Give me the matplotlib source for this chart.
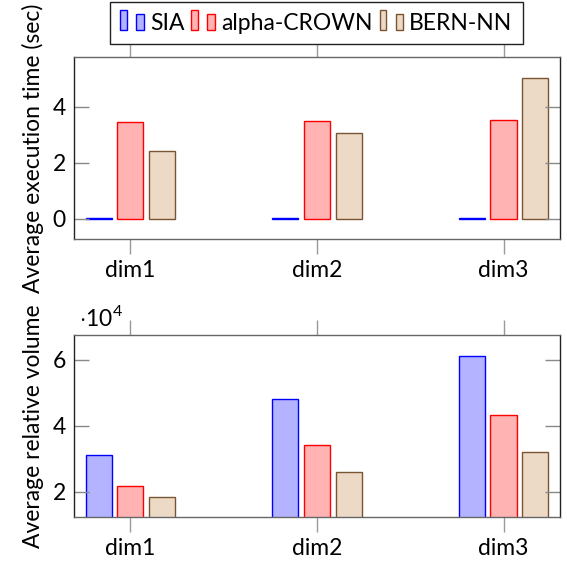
import numpy as np
import matplotlib
matplotlib.use("Agg")
import matplotlib.pyplot as plt
from matplotlib.patches import Rectangle
from matplotlib.legend_handler import HandlerBase

plt.rcParams['font.family'] = ['Lato', 'DejaVu Sans']
plt.rcParams['mathtext.fontset'] = 'custom'
plt.rcParams['mathtext.rm'] = 'Lato'

categories = ["dim1", "dim2", "dim3"]
methods = ["SIA", "alpha-CROWN", "BERN-NN"]
exec_time = {
    "SIA": [0.02, 0.02, 0.02],
    "alpha-CROWN": [3.45, 3.49, 3.54],
    "BERN-NN": [2.44, 3.06, 5.02],
}
# relative volume, in units of 1e4
rel_volume = {
    "SIA": [3.11, 4.82, 6.13],
    "alpha-CROWN": [2.17, 3.43, 4.33],
    "BERN-NN": [1.85, 2.59, 3.20],
}

fills = {"SIA": "#b3b3ff", "alpha-CROWN": "#ffb3b3", "BERN-NN": "#ecd9c6"}
edges = {"SIA": "#0000ff", "alpha-CROWN": "#ff0000", "BERN-NN": "#7a5532"}

BW = 0.14
OFF = 0.17
FS = 16.5


class TwoBarHandler(HandlerBase):
    # pgfplots-style ybar legend: two small bars
    def create_artists(self, legend, orig, xd, yd, w, h, fontsize, trans):
        fc, ec = orig.get_facecolor(), orig.get_edgecolor()
        r1 = Rectangle((-xd, -yd), 0.28 * w, 1.19 * h,
                       facecolor=fc, edgecolor=ec, lw=1, transform=trans)
        r2 = Rectangle((-xd + 0.67 * w, -yd), 0.32 * w, 0.94 * h,
                       facecolor=fc, edgecolor=ec, lw=1, transform=trans)
        return [r1, r2]


def style_axes(ax):
    for s in ["left", "right"]:
        ax.spines[s].set_color("#222222")
    for s in ["top", "bottom"]:
        ax.spines[s].set_color("#666666")
    for s in ax.spines.values():
        s.set_linewidth(1.0)
    ax.set_xticks(np.arange(1, 4))
    ax.set_xticklabels(categories)
    ax.set_xlim(0.698, 3.30)
    ax.tick_params(axis="x", direction="out", length=11, width=1, color="#999999",
                   top=True, labelsize=FS, pad=4)
    ax.tick_params(axis="y", direction="in", length=11, width=1, color="#888888",
                   right=True, labelsize=FS, pad=6)


fig = plt.figure(figsize=(5.67, 5.63), dpi=100)
ax1 = fig.add_axes([0.1305, 0.575, 0.8563, 0.3233])
ax2 = fig.add_axes([0.1305, 0.0812, 0.8563, 0.3238])

x = np.arange(1, 4)
handles = []
for i, m in enumerate(methods):
    b = ax1.bar(x + (i - 1) * OFF, exec_time[m], BW, facecolor=fills[m], edgecolor=edges[m],
                lw=1.0, label=m)
    handles.append(b.patches[0])
    ax2.bar(x + (i - 1) * OFF, rel_volume[m], BW, facecolor=fills[m], edgecolor=edges[m], lw=1.0)

style_axes(ax1)
ax1.set_ylim(-0.725, 5.77)
ax1.set_yticks([0, 2, 4])
ax1.set_ylabel("Average execution time (sec)", fontsize=FS, labelpad=6)

style_axes(ax2)
ax2.set_ylim(1.22, 6.76)
ax2.set_yticks([2, 4, 6])
ax2.set_ylabel("Average relative volume", fontsize=FS, labelpad=6)
ax2.text(0.01, 1.03, r"$\cdot 10^4$", transform=ax2.transAxes, fontsize=FS,
         ha="left", va="bottom")

leg = fig.legend(handles, methods, loc="upper center", bbox_to_anchor=(0.558, 0.996), ncol=3,
                 fontsize=FS, frameon=True, fancybox=False, edgecolor="#222222",
                 handler_map={Rectangle: TwoBarHandler()}, handlelength=1.05,
                 handletextpad=0.25, columnspacing=0.3, borderpad=0.45, borderaxespad=0,
                 framealpha=1)
leg.get_frame().set_linewidth(1.0)

fig.savefig("out.png", dpi=100)
